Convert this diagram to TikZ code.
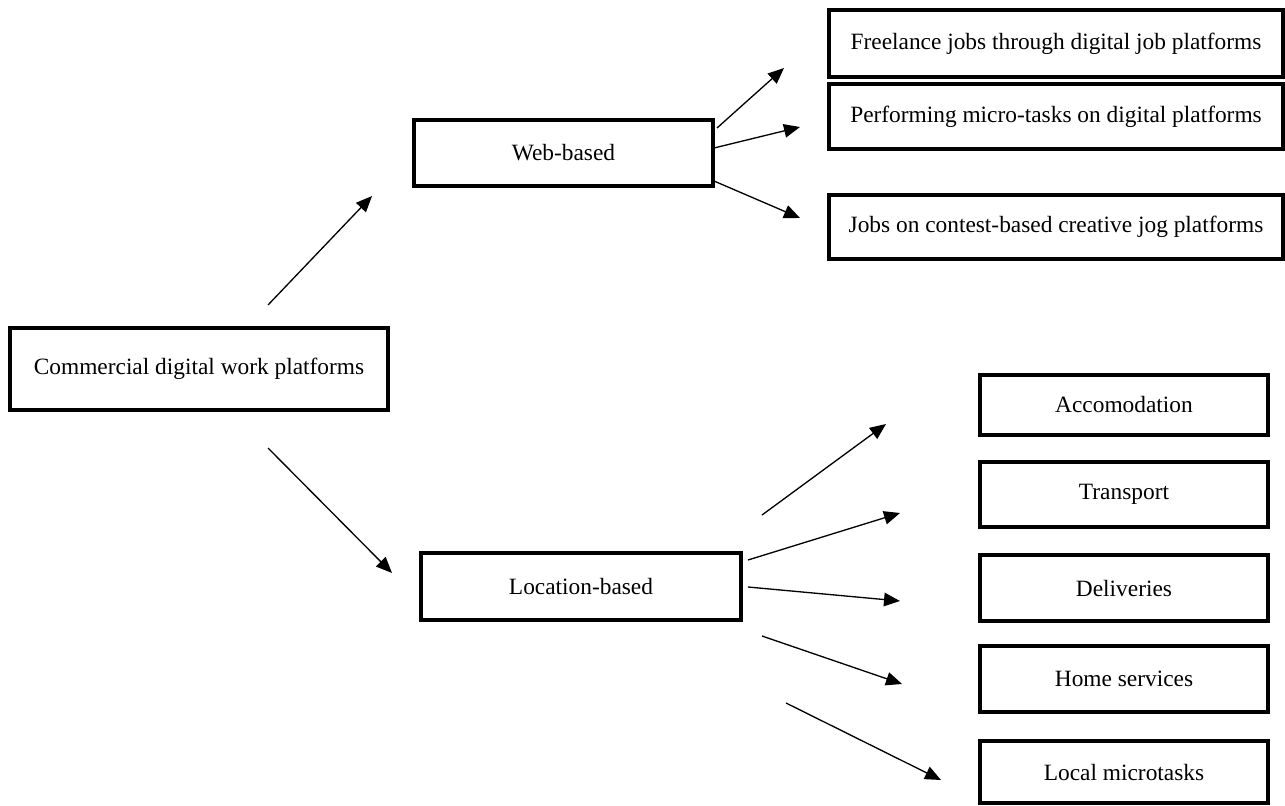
\documentclass[tikz,border=0pt]{standalone}
\usepackage{fontspec}
\setmainfont{Liberation Serif}
\usepackage{tikz}
\usetikzlibrary{arrows.meta, positioning}

\begin{document}
\begin{tikzpicture}[x=0.02cm,y=-0.02cm,>={Triangle[length=0.32cm,width=0.27cm]}]
\tikzset{box/.style={draw, line width=1.9pt, inner sep=0pt, font=\fontsize{13.3}{16}\selectfont},
  link/.style={->, line width=0.75pt}}
\useasboundingbox (0,0) rectangle (1285,805);
% The boxes
\node (cdwp) at (199,369) [box, minimum width=7.56cm, minimum height=1.64cm] {Commercial digital work platforms};
\node (web) at (563.5,153) [box, minimum width=5.98cm, minimum height=1.32cm] {Web-based};
\node (loc) at (581,586.5) [box, minimum width=6.4cm, minimum height=1.34cm] {Location-based};
\node (free) at (1056,43.5) [box, minimum width=9.08cm, minimum height=1.34cm] {Freelance jobs through digital job platforms};
\node (micro) at (1056,116.5) [box, minimum width=9.08cm, minimum height=1.3cm] {Performing micro-tasks on digital platforms};
\node (contest) at (1056,227) [box, minimum width=9.08cm, minimum height=1.28cm] {Jobs on contest-based creative jog platforms};
\node (accom) at (1124,405) [box, minimum width=5.76cm, minimum height=1.2cm] {Accomodation};
\node (trans) at (1124,494.5) [box, minimum width=5.76cm, minimum height=1.3cm] {Transport};
\node (deliv) at (1124,588) [box, minimum width=5.76cm, minimum height=1.32cm] {Deliveries};
\node (home) at (1124,679) [box, minimum width=5.76cm, minimum height=1.32cm] {Home services};
\node (local) at (1124,772) [box, minimum width=5.76cm, minimum height=1.24cm] {Local microtasks};
% Arrow ends, they float between the boxes
\coordinate (cdwp-up) at (268,305);
\coordinate (web-in) at (372,196);
\coordinate (cdwp-down) at (268,448);
\coordinate (loc-in) at (392,573);
\coordinate (web-a) at (717,128);
\coordinate (free-in) at (784,68);
\coordinate (web-b) at (714,148);
\coordinate (micro-in) at (800,127);
\coordinate (web-c) at (714,181);
\coordinate (contest-in) at (800,218);
\coordinate (loc-a) at (762,515);
\coordinate (accom-in) at (886,424);
\coordinate (loc-b) at (748,560);
\coordinate (trans-in) at (900,513);
\coordinate (loc-c) at (748,587);
\coordinate (deliv-in) at (900,601);
\coordinate (loc-d) at (762,636);
\coordinate (home-in) at (902,684);
\coordinate (loc-e) at (786,703);
\coordinate (local-in) at (941,780);
% The arrows
\draw [link] (cdwp-up) -- (web-in);
\draw [link] (cdwp-down) -- (loc-in);
\draw [link] (web-a) -- (free-in);
\draw [link] (web-b) -- (micro-in);
\draw [link] (web-c) -- (contest-in);
\draw [link] (loc-a) -- (accom-in);
\draw [link] (loc-b) -- (trans-in);
\draw [link] (loc-c) -- (deliv-in);
\draw [link] (loc-d) -- (home-in);
\draw [link] (loc-e) -- (local-in);
\end{tikzpicture}
\end{document}
